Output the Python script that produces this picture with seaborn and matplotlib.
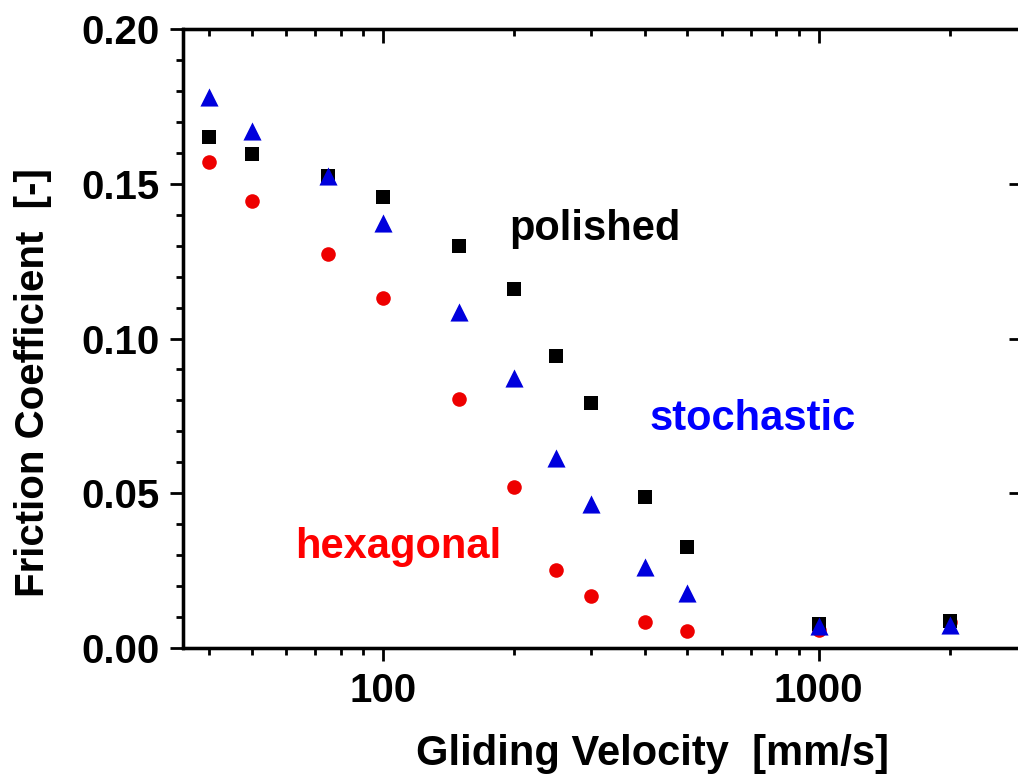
import numpy as np
import pandas as pd
import matplotlib
matplotlib.use("Agg")
import matplotlib.pyplot as plt
from matplotlib.ticker import MultipleLocator, LogLocator, NullFormatter, FixedLocator, FixedFormatter, NullLocator
import seaborn as sns

# ---- data ----
velocity = [40, 50, 75, 100, 150, 200, 250, 300, 400, 500, 1000, 2000]
polished = [0.1651, 0.1596, 0.1525, 0.1457, 0.1299, 0.1160, 0.0943, 0.0792, 0.0488, 0.0326, 0.0078, 0.0087]
stochastic = [0.1780, 0.1670, 0.1525, 0.1373, 0.1086, 0.0872, 0.0614, 0.0465, 0.0262, 0.0178, 0.0071, 0.0074]
hexagonal = [0.1570, 0.1444, 0.1273, 0.1131, 0.0805, 0.0520, 0.0252, 0.0168, 0.0084, 0.0055, 0.0058, 0.0084]
x_ticks = [100, 1000]
x_tick_labels = ["100", "1000"]
y_ticks = [0.00, 0.05, 0.10, 0.15, 0.20]
y_tick_labels = ["0.00", "0.05", "0.10", "0.15", "0.20"]

sns.set_theme(style="white")
plt.rcParams["font.family"] = ["Liberation Sans", "DejaVu Sans"]
plt.rcParams["font.weight"] = "bold"

df = pd.DataFrame({
    "v": velocity * 3,
    "mu": hexagonal + polished + stochastic,
    "surface": ["hexagonal"] * len(velocity) + ["polished"] * len(velocity) + ["stochastic"] * len(velocity),
})

fig = plt.figure(figsize=(10.18, 7.84), dpi=100)
ax = fig.add_axes([183 / 1018, 1 - 648 / 784, (1020 - 183) / 1018, (648 - 29) / 784])

styles = {
    "hexagonal": dict(marker="o", color="#ee0000", s=110),
    "polished": dict(marker="s", color="#000000", s=110),
    "stochastic": dict(marker="^", color="#0000dd", s=170),
}
for name in ["hexagonal", "polished", "stochastic"]:
    sub = df[df["surface"] == name]
    sns.scatterplot(data=sub, x="v", y="mu", ax=ax, marker=styles[name]["marker"],
                    color=styles[name]["color"], s=styles[name]["s"], linewidth=0,
                    legend=False, zorder=3)

ax.set_xscale("log")
xlim = (34.8, 2900)
ax.set_xlim(*xlim)
ax.set_ylim(0, 0.20)

ax.xaxis.set_major_locator(FixedLocator(x_ticks))
ax.xaxis.set_major_formatter(FixedFormatter(x_tick_labels))
ax.xaxis.set_minor_locator(LogLocator(base=10, subs=np.arange(2, 10)))
ax.xaxis.set_minor_formatter(NullFormatter())
ax.yaxis.set_major_locator(FixedLocator(y_ticks))
ax.yaxis.set_major_formatter(FixedFormatter(y_tick_labels))
ax.yaxis.set_minor_locator(MultipleLocator(0.01))

lw = 2.3
for sp in ax.spines.values():
    sp.set_linewidth(lw)
    sp.set_color("black")

ax.tick_params(axis="both", which="major", direction="out", length=9.5, width=2.0,
               labelsize=29, color="black", labelcolor="black")
ax.tick_params(axis="both", which="minor", direction="out", length=5, width=2.0, color="black")
ax.tick_params(axis="y", which="major", pad=7)
ax.tick_params(axis="x", which="major", pad=8)
for lab in ax.get_xticklabels() + ax.get_yticklabels():
    lab.set_fontweight("bold")

# inward ticks on top and right
axt = ax.twiny()
axt.set_xscale("log")
axt.set_xlim(*xlim)
axt.xaxis.set_major_locator(FixedLocator(x_ticks))
axt.xaxis.set_minor_locator(LogLocator(base=10, subs=np.arange(2, 10)))
axt.tick_params(axis="x", which="major", direction="in", length=10, width=2.0, labeltop=False, color="black")
axt.tick_params(axis="x", which="minor", direction="in", length=5, width=2.0, color="black")
axt.xaxis.set_major_formatter(NullFormatter())
axt.xaxis.set_minor_formatter(NullFormatter())
axr = ax.twinx()
axr.set_ylim(0, 0.20)
axr.yaxis.set_major_locator(FixedLocator(y_ticks))
axr.yaxis.set_minor_locator(NullLocator())
axr.tick_params(axis="y", which="major", direction="in", length=8, width=2.0, labelright=False, color="black")
for a in (axt, axr):
    for sp in a.spines.values():
        sp.set_linewidth(lw)
        sp.set_color("black")

ax.set_xlabel("Gliding Velocity  [mm/s]", fontsize=30, fontweight="bold", color="black")
ax.xaxis.set_label_coords((652 - 183) / (1020 - 183), -(754 - 648) / (648 - 29))
ax.xaxis.label.set_va("center")
ax.set_ylabel("Friction Coefficient  [-]", fontsize=29, fontweight="bold", color="black")
ax.yaxis.set_label_coords(-(183 - 33) / (1020 - 183), (648 - 383) / (648 - 29))
ax.yaxis.label.set_va("center")

ax.text(195, 0.1318, "polished", color="black", fontsize=30, fontweight="bold", va="baseline", ha="left")
ax.text(409, 0.0704, "stochastic", color="#0000ff", fontsize=30, fontweight="bold", va="baseline", ha="left")
ax.text(62.8, 0.0291, "hexagonal", color="#ff0000", fontsize=30, fontweight="bold", va="baseline", ha="left")

fig.savefig("out.png", dpi=100)
